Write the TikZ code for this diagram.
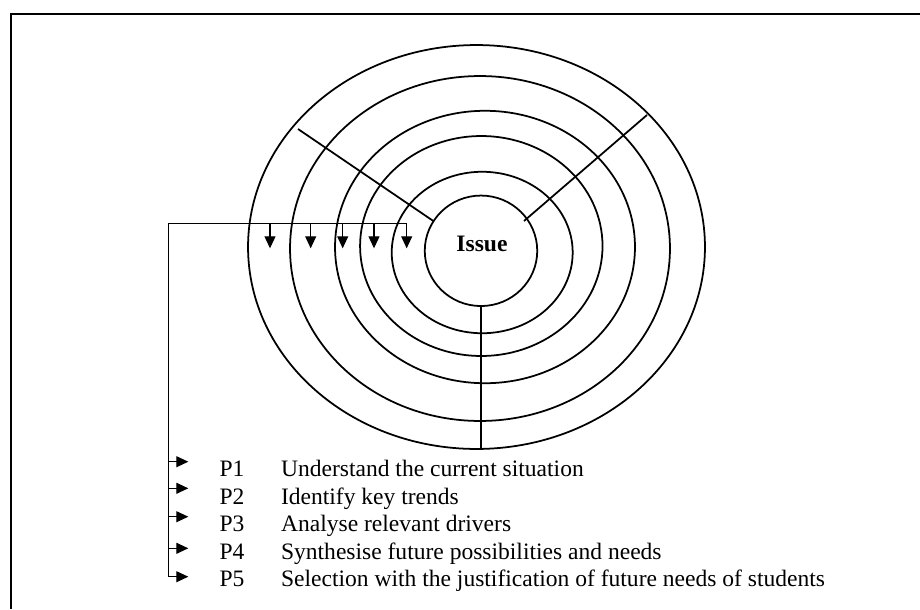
\documentclass[tikz,border=0pt]{standalone}
\usepackage{fontspec}
\setmainfont{Liberation Serif}
\usetikzlibrary{shapes.geometric,arrows.meta}

\tikzset{
  ring/.style={draw, ellipse, line width=1pt, inner sep=0pt, outer sep=0pt},
  link/.style={line width=0.6pt},
  tip/.style={link, -{Triangle[length=0.24cm,width=0.22cm]}},
}

\begin{document}
\begin{tikzpicture}[x=0.02cm,y=-0.02cm,font=\fontsize{13.4}{15}\selectfont]
  \useasboundingbox (0,0) rectangle (920,609);
  \draw[line width=1.3pt] (920,14) -- (11,14) -- (11,609);

  \node[ring, minimum width=9.14cm, minimum height=8.08cm] (ring1) at (476.5,247) {};
  \node[ring, minimum width=7.60cm, minimum height=6.90cm] (ring2) at (480,248.5) {};
  \node[ring, minimum width=6.00cm, minimum height=5.45cm] (ring3) at (485,247) {};
  \node[ring, minimum width=4.85cm, minimum height=4.40cm] (ring4) at (481.3,246) {};
  \node[ring, minimum width=3.62cm, minimum height=3.23cm] (ring5) at (482.2,252.5) {};
  \node[ring, minimum width=2.25cm, minimum height=2.21cm] (issue) at (481,250.8) {};
  \node[font=\fontsize{13.4}{15}\selectfont\bfseries] (issuetext) at (482,244) {Issue};

  \coordinate (nw) at (298,129);
  \coordinate (ne) at (647,115);
  \coordinate (ni) at (524,221);
  \draw[line width=1pt] (issue.148) -- (nw);
  \draw[line width=1pt] (ni) -- (ne);
  \draw[link] (issue.south) -- (issue.south |- ring1.south);

  \coordinate (hub) at (168.3,223.3);
  \coordinate (hubend) at (406.7,223.3);
  \draw[link] (hub) -- (hubend);
  \foreach \x in {270,310.7,342.7,374,406.7}
    \draw[tip] (\x,0 |- hub) -- ++(0,25);

  \foreach \i/\y/\a/\t in {1/476.7/461.7/Understand the current situation,
                           2/504.3/488.3/Identify key trends,
                           3/531.7/516.7/Analyse relevant drivers,
                           4/559.3/548.3/Synthesise future possibilities and needs,
                           5/586.7/576.7/Selection with the justification of future needs of students} {
    \node[anchor=base west, inner sep=0pt] (p\i) at (219.3,\y) {P\i};
    \node[anchor=base west, inner sep=0pt] (d\i) at (280.7,\y) {\t};
    \draw[tip] (hub |- 0,\a) -- ++(20,0);
  }
  \draw[link] (hub) -- (hub |- 0,576.7);
\end{tikzpicture}
\end{document}
